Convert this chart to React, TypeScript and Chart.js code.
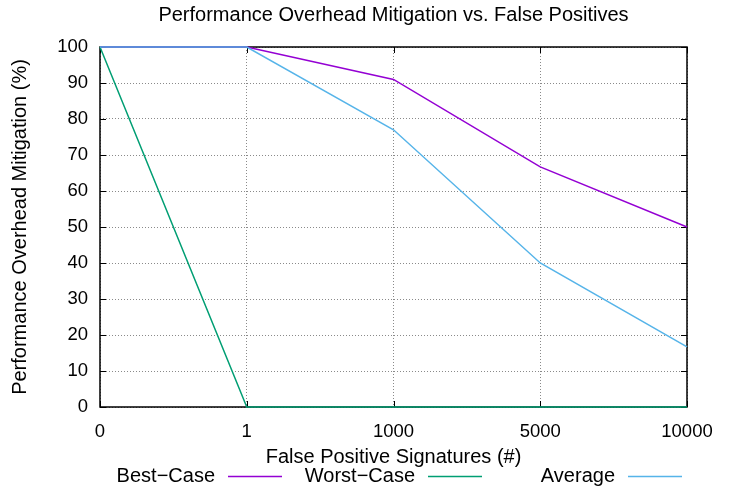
import React, { useEffect, useRef } from "react";
import { Chart, registerables } from "chart.js";

Chart.register(...registerables);

const categories = ["0", "1", "1000", "5000", "10000"];
const bestCase = [100, 100, 91, 66.7, 50];
const worstCase = [100, 0, 0, 0, 0];
const average = [100, 100, 77, 40, 16.7];
const seriesNames = ["Best\u2212Case", "Worst\u2212Case", "Average"];
const seriesColors = ["#9400d3", "#009e73", "#56b4e9"];
const chartTitle = "Performance Overhead Mitigation vs. False Positives";

const FONT = "'Liberation Sans', Arial, sans-serif";
const FS = 20;
const TICK_FS = 18.5;

const framePlugin = {
  id: "frame",
  beforeDatasetsDraw(chart: any) {
    const { ctx, chartArea } = chart;
    const { left, right, top, bottom } = chartArea;
    const xs = chart.scales.x;
    const ys = chart.scales.y;
    ctx.save();
    ctx.strokeStyle = "#000";
    ctx.lineWidth = 1;
    ctx.beginPath();
    ys.ticks.forEach((t: any) => {
      const y = Math.round(ys.getPixelForValue(t.value)) + 0.5;
      ctx.moveTo(left, y);
      ctx.lineTo(left + 6, y);
      ctx.moveTo(right - 6, y);
      ctx.lineTo(right, y);
    });
    xs.ticks.forEach((_t: any, i: number) => {
      const x = Math.round(xs.getPixelForTick(i)) + 0.5;
      ctx.moveTo(x, bottom);
      ctx.lineTo(x, bottom - 6);
      ctx.moveTo(x, top);
      ctx.lineTo(x, top + 6);
    });
    ctx.stroke();
    ctx.lineWidth = 1.5;
    ctx.strokeRect(left, top, right - left, bottom - top);
    ctx.restore();
  },
  afterDraw(chart: any) {
    const { ctx, width, chartArea } = chart;
    ctx.save();
    ctx.font = `${FS}px ${FONT}`;
    ctx.fillStyle = "#000";
    ctx.textAlign = "center";
    ctx.textBaseline = "middle";
    ctx.fillText(chartTitle, (chartArea.left + chartArea.right) / 2, 15);
    ctx.textAlign = "right";
    const y = 476;
    const step = 200;
    const start = 215 + (width - 733) / 2;
    seriesNames.forEach((name, i) => {
      const tx = start + i * step;
      ctx.fillStyle = "#000";
      ctx.fillText(name, tx, y);
      ctx.strokeStyle = seriesColors[i];
      ctx.lineWidth = 1.5;
      ctx.beginPath();
      ctx.moveTo(tx + 13, y + 0.5);
      ctx.lineTo(tx + 67, y + 0.5);
      ctx.stroke();
    });
    ctx.restore();
  },
};

export default function App() {
  const ref = useRef<HTMLCanvasElement | null>(null);

  useEffect(() => {
    document.body.style.margin = "0";
    const canvas = ref.current;
    if (!canvas) return;
    const datasets = [bestCase, worstCase, average].map((data, i) => ({
      label: seriesNames[i],
      data,
      order: 2 - i,
      borderColor: seriesColors[i],
      backgroundColor: seriesColors[i],
      borderWidth: 1.5,
      pointRadius: 0,
      tension: 0,
      fill: false,
      clip: false as any,
    }));
    const chart = new Chart(canvas, {
      type: "line",
      data: { labels: categories, datasets },
      plugins: [framePlugin],
      options: {
        animation: false,
        responsive: false,
        maintainAspectRatio: false,
        layout: { padding: { left: 0, right: 46, top: 47, bottom: 18 } },
        plugins: {
          legend: { display: false },
          tooltip: { enabled: false },
          title: { display: false },
        },
        scales: {
          x: {
            type: "category",
            offset: false,
            grid: { offset: false, color: "#8a8a8a", lineWidth: 1, drawTicks: false },
            border: { display: false, dash: [1, 2] },
            ticks: {
              color: "#000",
              font: { family: FONT, size: TICK_FS },
              padding: 14,
              maxRotation: 0,
              autoSkip: false,
            },
            title: {
              display: true,
              text: "False Positive Signatures (#)",
              color: "#000",
              font: { family: FONT, size: FS },
              padding: { top: 0, bottom: 0 },
            },
            afterFit: (s: any) => {
              s.height = 62;
            },
          },
          y: {
            min: 0,
            max: 100,
            grid: { color: "#8a8a8a", lineWidth: 1, drawTicks: false },
            border: { display: false, dash: [1, 2] },
            ticks: {
              stepSize: 10,
              color: "#000",
              font: { family: FONT, size: TICK_FS },
              padding: 12,
            },
            title: {
              display: true,
              text: "Performance Overhead Mitigation (%)",
              color: "#000",
              font: { family: FONT, size: FS },
              padding: { top: 8, bottom: 0 },
            },
            afterFit: (s: any) => {
              s.width = 100;
            },
          },
        },
      },
    });
    return () => chart.destroy();
  }, []);

  return (
    <canvas
      ref={ref}
      width={733}
      height={487}
      style={{ display: "block", width: 733, height: 487 }}
    />
  );
}
